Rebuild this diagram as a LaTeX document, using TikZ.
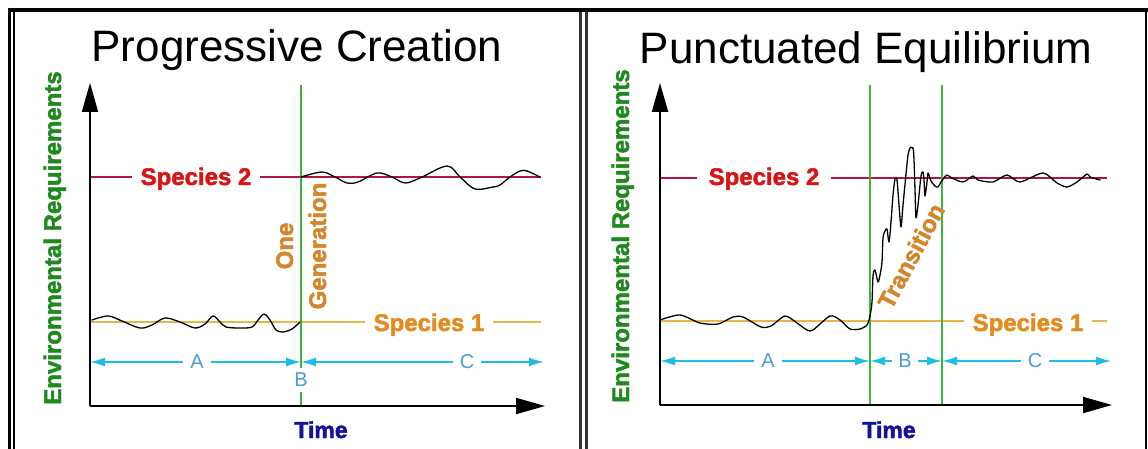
\documentclass[tikz,border=0pt]{standalone}
\usepackage{fontspec}
\setmainfont{Liberation Sans}
\newfontfamily\heavyfont{Liberation Sans}[UprightFont={* Bold}, FakeBold=2]
\usetikzlibrary{arrows.meta}

\definecolor{sptwoline}{HTML}{B0173F}
\definecolor{sptwotext}{HTML}{D81414}
\definecolor{sponeline}{HTML}{E8B44C}
\definecolor{sponetext}{HTML}{E58A1C}
\definecolor{genline}{HTML}{3CB43C}
\definecolor{spanline}{HTML}{1EBCE8}
\definecolor{spantext}{HTML}{4A9CD4}
\definecolor{timetext}{HTML}{12129C}
\definecolor{envtext}{HTML}{1E8A1E}
\definecolor{notetext}{HTML}{D4862A}

\tikzset{
  axis/.style={line width=2pt, -{Triangle[length=29pt,width=16pt]}},
  sptwo/.style={draw=sptwoline, line width=1.3pt},
  spone/.style={draw=sponeline, line width=1.3pt},
  gen/.style={draw=genline, line width=1.3pt},
  span/.style={draw=spanline, line width=1.6pt,
    {Latex[length=15pt,width=9pt]}-{Latex[length=15pt,width=9pt]}},
  spanlab/.style={fill=white, text=spantext, font=\fontsize{20}{22}\selectfont,
    inner xsep=7pt, inner ysep=2pt},
  splab/.style={fill=white, anchor=base, font=\heavyfont\fontsize{24}{26}\selectfont,
    inner xsep=9pt, inner ysep=2pt},
  plottitle/.style={anchor=base, font=\fontsize{44}{50}\selectfont},
  envlab/.style={anchor=base, rotate=90, text=envtext, font=\heavyfont\fontsize{24}{26}\selectfont},
  timelab/.style={anchor=base, text=timetext, font=\heavyfont\fontsize{23}{25}\selectfont},
  notelab/.style={text=notetext, font=\heavyfont\fontsize{24}{26}\selectfont},
  trace/.style={draw=black, line width=1.3pt, line join=round, line cap=round},
  frame/.style={draw=black, line width=#1},
}

\begin{document}
\begin{tikzpicture}[x=1pt, y=-1pt]
\useasboundingbox[fill=white] (0,0) rectangle (1148,449);

% ---- window frames ----
\fill[black] (9,8) rectangle (1148,12.5);
\draw[frame=3pt] (9.5,8) -- (9.5,449);
\draw[frame=2pt] (13.5,11) -- (13.5,449);
\draw[frame=3.5pt, draw=black!80] (580.5,12) -- (580.5,449);
\draw[frame=2.5pt, draw=black!80] (586.5,12) -- (586.5,449);
\draw[frame=2pt] (1146,8) -- (1146,449);

% =========================================================
% Left chart: Progressive Creation
% =========================================================
\node[plottitle] (titleL) at (297,62) {Progressive Creation};

\coordinate (oL) at (90,406);
\coordinate (yL) at (90,83);
\coordinate (xL) at (545,406);

% species levels
\draw[sptwo] (90,177) -- (541,177);
\draw[spone] (90,322) -- (541,322);
% generation boundary
\draw[gen] (301,85) -- (301,406);

% time spans
\coordinate (aL0) at (90,362);
\coordinate (aL1) at (301,362);
\coordinate (aL2) at (544,362);
\draw[span] (aL0) -- (aL1);
\draw[span] (aL1) -- (aL2);
\node[spanlab] (labAL) at (197,362) {A};
\node[spanlab] (labCL) at (467,362) {C};
\node[spanlab, inner ysep=5pt] (labBL) at (301,380) {B};

% labels
\node[splab, text=sptwotext] (s2L) at (196,185) {Species 2};
\node[splab, text=sponetext] (s1L) at (429,331) {Species 1};
\node[notelab, rotate=90, anchor=base] (oneL) at (293,246) {One};
\node[notelab, rotate=90, anchor=base] (genL) at (326,246) {Generation};
\node[envlab] (envL) at (61,238) {Environmental Requirements};
\node[timelab] (timeL) at (321,438) {Time};

% trajectory
\draw[trace] plot[smooth, tension=0.55] coordinates {
  (92,320) (108,316) (122,321) (140,328) (152,325) (165,318) (180,322)
  (195,328) (205,324) (213,316) (220,322) (226,327) (240,328) (252,327)
  (258,320) (264,314) (270,320) (276,330) (283,332) (292,329) (300,322)};
\draw[trace] plot[smooth, tension=0.55] coordinates {
  (301,177) (322,172) (335,177) (347,183) (358,182) (377,173) (392,177)
  (405,183) (420,178) (447,166) (460,177) (475,189) (493,187) (500,185)
  (510,177) (520,171) (527,171) (540,177)};

% axes
\draw[axis] (oL) -- (yL);
\draw[axis] (oL) -- (xL);

% =========================================================
% Right chart: Punctuated Equilibrium
% =========================================================
\node[plottitle] (titleR) at (866,64) {Punctuated Equilibrium};

\coordinate (oR) at (660,405);
\coordinate (yR) at (660,83);
\coordinate (xR) at (1112,405);

\draw[sptwo] (660,178) -- (1107,178);
\draw[spone] (660,321) -- (1107,321);
\draw[gen] (870,85) -- (870,405);
\draw[gen] (942,85) -- (942,405);

\coordinate (aR0) at (660,361);
\coordinate (aR1) at (870,361);
\coordinate (aR2) at (942,361);
\coordinate (aR3) at (1111,361);
\draw[span] (aR0) -- (aR1);
\draw[span] (aR1) -- (aR2);
\draw[span] (aR2) -- (aR3);
\node[spanlab] (labAR) at (768,361) {A};
\node[spanlab, inner xsep=6pt] (labBR) at (905,361) {B};
\node[spanlab] (labCR) at (1035,361) {C};

\node[splab, text=sptwotext, inner xsep=12pt] (s2R) at (764,185) {Species 2};
\node[splab, text=sponetext] (s1R) at (1028,331) {Species 1};
\node[notelab, rotate=62] (transR) at (911,256) {Transition};
\node[envlab] (envR) at (629,236) {Environmental Requirements};
\node[timelab] (timeR) at (889,438) {Time};

\draw[trace] plot[smooth, tension=0.45] coordinates {
  (660,320) (680,315) (700,323) (718,324) (733,317) (743,317) (761,327)
  (771,326) (785,316) (797,323) (807,330) (813,330) (830,316) (840,320)
  (850,329) (860,329) (867,325) (870,316)
  (872,302) (873,276) (875,270) (878,282) (880,275) (882,262) (883,238)
  (885,231) (887,229) (889,242) (891,222) (893,195) (895,179) (897,180)
  (899,205) (901,227) (903,205) (906,174) (908,155) (910,148) (913,148)
  (914,160) (915,190) (916,218) (918,205) (921,176) (923,172) (924,180)
  (925,196) (927,182) (928,173) (931,181) (935,186) (938,187) (941,182)
  (944,178) (947,175) (952,178) (963,182) (973,176) (978,180) (993,182)
  (1007,175) (1020,182) (1043,173) (1057,183) (1067,187) (1077,182)
  (1087,174) (1090,177) (1100,180)};

\draw[axis] (oR) -- (yR);
\draw[axis] (oR) -- (xR);
\end{tikzpicture}
\end{document}
